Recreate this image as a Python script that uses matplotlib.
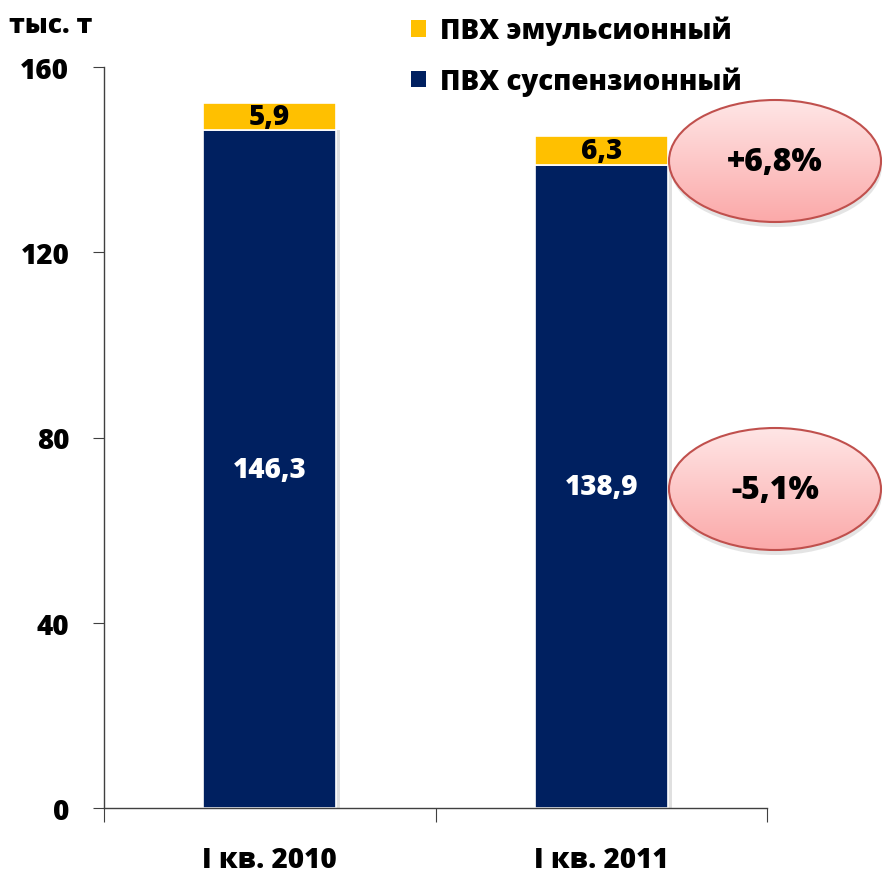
import matplotlib
matplotlib.use("Agg")
import matplotlib.pyplot as plt
import numpy as np
from matplotlib.patches import Patch, Ellipse
from matplotlib.colors import LinearSegmentedColormap

plt.rcParams['font.family'] = ['Open Sans', 'DejaVu Sans']
WT = 800
plt.rcParams['font.weight'] = WT

categories = ['I кв. 2010', 'I кв. 2011']
suspension = [146.3, 138.9]
emulsion = [5.9, 6.3]
series_names = ['ПВХ эмульсионный', 'ПВХ суспензионный']
changes = ['+6,8%', '-5,1%']
yticks = [0, 40, 80, 120, 160]

NAVY = '#002060'
YELLOW = '#FFC000'

fig = plt.figure(figsize=(8.85, 8.79), dpi=100)
W, H = 885, 879
ax = fig.add_axes([104 / W, 1 - 809 / H, (767 - 104) / W, (809 - 68) / H])

x = np.arange(len(categories))
bw = 0.4
ax.bar(x + 0.012, suspension, width=bw, color='#cccccc', zorder=1, alpha=0.6)
ax.bar(x, suspension, width=bw, color=NAVY, edgecolor='white', linewidth=1.2, zorder=2)
ax.bar(x, emulsion, width=bw, bottom=suspension, color=YELLOW, edgecolor='white', linewidth=1.2, zorder=2)

for i in range(len(x)):
    ax.text(x[i], suspension[i] / 2, f"{suspension[i]:.1f}".replace('.', ','),
            ha='center', va='center', color='white', fontsize=20, fontweight=WT, zorder=3)
    ax.text(x[i], suspension[i] + emulsion[i] / 2, f"{emulsion[i]:.1f}".replace('.', ','),
            ha='center', va='center', color='black', fontsize=20, fontweight=WT, zorder=3)

ax.set_xlim(-0.5, 1.5)
ax.set_ylim(0, 160)
ax.set_yticks(yticks)
ax.set_yticklabels([str(v) for v in yticks], fontsize=20, fontweight=WT)
ax.set_xticks([-0.5, 0.5, 1.5])
ax.set_xticklabels([])
ax.set_xticks(x, minor=True)
ax.set_xticklabels(categories, minor=True, fontsize=20, fontweight=WT)
ax.tick_params(axis='x', which='minor', length=0, pad=27)
ax.tick_params(axis='x', which='major', length=10, direction='out', color='#404040')
ax.tick_params(axis='y', length=8, direction='out', color='#404040', pad=17)
for s in ['top', 'right']:
    ax.spines[s].set_visible(False)
for s in ['left', 'bottom']:
    ax.spines[s].set_color('#404040')
    ax.spines[s].set_linewidth(1.0)

fig.text(9 / W, 1 - 26 / H, 'тыс. т', fontsize=19, fontweight=WT, va='center', ha='left')

handles = [Patch(facecolor=YELLOW, edgecolor='none'), Patch(facecolor=NAVY, edgecolor='none')]
fig.legend(handles, series_names, loc='upper left', bbox_to_anchor=(411 / W, 1 - 17 / H),
           frameon=False, handlelength=0.55, handleheight=0.55, handletextpad=0.5,
           labelspacing=0.75, borderpad=0, borderaxespad=0,
           prop={'weight': WT, 'size': 20})

# change ellipses
grad = np.linspace(0, 1, 256).reshape(-1, 1)
cmap = LinearSegmentedColormap.from_list('pk', ['#FFE6E6', '#FBA9A9'])
centers = [(775, 162), (775, 490)]
for (cx, cy), label in zip(centers, changes):
    ew, eh = 212, 122
    l = (cx - ew / 2 - 6) / W
    b = 1 - (cy + eh / 2 + 10) / H
    eax = fig.add_axes([l, b, (ew + 12) / W, (eh + 16) / H])
    eax.axis('off')
    sh = Ellipse((cx + 1, cy + 5), ew, eh, facecolor='#888888', alpha=0.22, edgecolor='none')
    eax.add_patch(sh)
    im = eax.imshow(grad, cmap=cmap, extent=[cx - ew / 2, cx + ew / 2, cy + eh / 2, cy - eh / 2],
                    aspect='auto', zorder=2)
    im.set_clip_path(Ellipse((cx, cy), ew, eh, transform=eax.transData))
    eax.add_patch(Ellipse((cx, cy), ew, eh, facecolor='none', edgecolor='#C0504D', linewidth=1.5, zorder=3))
    eax.set_xlim(cx - ew / 2 - 6, cx + ew / 2 + 6)
    eax.set_ylim(cy + eh / 2 + 10, cy - eh / 2 - 6)
    eax.text(cx, cy + 1, label, ha='center', va='center', fontsize=23, fontweight=WT, zorder=4)

fig.savefig('out.png', dpi=100)
